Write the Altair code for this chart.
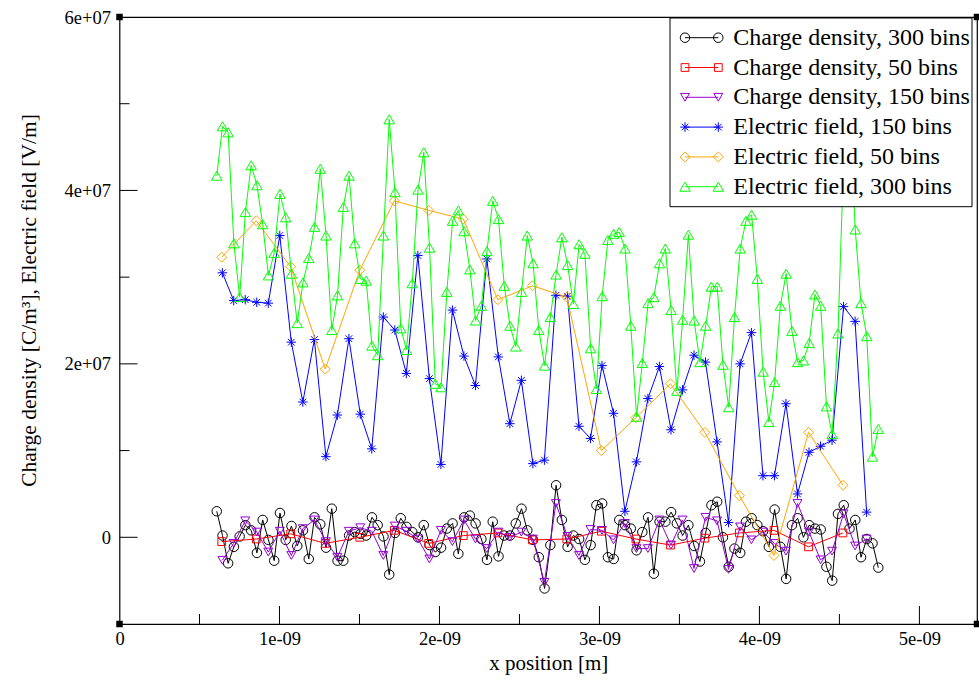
import altair as alt
import pandas as pd

# ---------------- data (x in units of 1e-9 m, y in units of 1e7) ----------------
x_300_nm = [0.608, 0.644, 0.679, 0.715, 0.751, 0.787, 0.823, 0.859, 0.895, 0.931,
            0.967, 1.003, 1.039, 1.075, 1.111, 1.147, 1.183, 1.219, 1.255, 1.291,
            1.327, 1.363, 1.399, 1.435, 1.470, 1.506, 1.542, 1.578, 1.614, 1.650,
            1.686, 1.722, 1.758, 1.794, 1.830, 1.866, 1.902, 1.938, 1.974, 2.010,
            2.046, 2.082, 2.118, 2.154, 2.190, 2.226, 2.262, 2.297, 2.333, 2.369,
            2.405, 2.441, 2.477, 2.513, 2.549, 2.585, 2.621, 2.657, 2.693, 2.729,
            2.765, 2.801, 2.837, 2.873, 2.909, 2.945, 2.981, 3.017, 3.053, 3.089,
            3.124, 3.160, 3.196, 3.232, 3.268, 3.304, 3.340, 3.376, 3.412, 3.448,
            3.484, 3.520, 3.556, 3.592, 3.628, 3.664, 3.700, 3.736, 3.772, 3.808,
            3.844, 3.880, 3.916, 3.951, 3.987, 4.023, 4.059, 4.095, 4.131, 4.167,
            4.203, 4.239, 4.275, 4.311, 4.347, 4.383, 4.419, 4.455, 4.491, 4.527,
            4.563, 4.599, 4.635, 4.671, 4.707, 4.743]

x_150_nm = [0.643, 0.714, 0.786, 0.858, 0.930, 1.002, 1.074, 1.146, 1.218, 1.290,
            1.362, 1.434, 1.505, 1.577, 1.649, 1.721, 1.793, 1.865, 1.937, 2.009,
            2.081, 2.153, 2.225, 2.296, 2.368, 2.440, 2.512, 2.584, 2.656, 2.728,
            2.800, 2.872, 2.944, 3.016, 3.088, 3.159, 3.231, 3.303, 3.375, 3.447,
            3.519, 3.591, 3.663, 3.735, 3.807, 3.879, 3.950, 4.022, 4.094, 4.166,
            4.238, 4.310, 4.382, 4.454, 4.526, 4.598, 4.670]

x_50_nm = [0.639, 0.855, 1.070, 1.286, 1.502, 1.718, 1.933, 2.149, 2.365, 2.581,
           2.796, 3.012, 3.228, 3.444, 3.659, 3.875, 4.091, 4.307, 4.522]

charge_300 = [0.30, 0.02, -0.30, -0.11, 0.01, 0.14, 0.08, -0.18, 0.20, -0.03,
              -0.27, 0.28, -0.03, 0.13, -0.10, 0.08, -0.25, 0.23, 0.15, -0.12,
              0.33, -0.27, -0.27, 0.02, 0.06, 0.04, 0.02, 0.23, 0.14, 0.01,
              -0.43, 0.05, 0.22, 0.12, 0.06, 0.00, 0.14, -0.09, -0.17, -0.12,
              0.10, 0.16, -0.19, 0.23, 0.25, 0.16, -0.02, -0.26, 0.18, -0.22,
              0.02, 0.02, 0.16, 0.33, 0.08, -0.03, -0.23, -0.59, -0.09, 0.60,
              0.20, -0.11, 0.02, -0.02, -0.26, -0.09, 0.37, 0.39, -0.23, -0.25,
              0.20, 0.14, 0.10, -0.15, 0.06, 0.23, -0.42, 0.18, 0.18, 0.29,
              0.16, 0.02, 0.14, -0.10, -0.28, 0.05, 0.37, 0.41, 0.00, -0.34,
              -0.13, -0.18, 0.18, 0.22, 0.14, 0.07, -0.11, 0.32, -0.11, -0.48,
              0.14, 0.22, 0.00, 0.14, 0.10, 0.09, -0.34, -0.50, 0.27, 0.37,
              0.10, 0.20, -0.23, -0.02, -0.07, -0.35]

charge_50 = [-0.05, -0.02, 0.04, -0.07, 0.00, 0.08, -0.07, 0.02, 0.05, -0.03,
             -0.02, 0.07, -0.02, -0.09, -0.01, 0.05, 0.08, -0.11, 0.05]

charge_150 = [-0.265, -0.07, 0.19, 0.06, -0.17, 0.07, -0.21, 0.10, 0.20, -0.05,
              -0.23, 0.07, 0.11, 0.07, -0.21, 0.13, 0.07, -0.02, -0.25, 0.08,
              -0.05, 0.20, -0.02, -0.13, 0.06, 0.00, 0.06, -0.02, -0.52, 0.39,
              0.01, -0.21, 0.09, 0.08, -0.03, 0.16, -0.13, -0.13, 0.20, -0.09,
              0.20, -0.36, 0.23, 0.19, -0.37, 0.12, -0.03, 0.06, -0.07, -0.16,
              0.39, 0.06, -0.26, -0.16, 0.27, -0.10, -0.02]

efield_150 = [3.05, 2.73, 2.74, 2.71, 2.70, 3.48, 2.25, 1.56, 2.28, 0.93,
              1.41, 2.29, 1.42, 1.02, 2.54, 2.39, 1.89, 3.25, 1.83, 0.84,
              2.62, 2.09, 1.75, 3.21, 2.08, 1.31, 1.81, 0.85, 0.89, 2.79,
              2.78, 1.28, 1.14, 1.98, 1.43, 0.30, 0.87, 1.60, 1.97, 1.24,
              1.70, 2.10, 2.02, 1.10, 0.17, 2.00, 2.36, 0.71, 0.71, 1.54,
              0.50, 0.98, 1.05, 1.12, 2.66, 2.49, 0.29]

efield_50 = [3.23, 3.65, 3.12, 1.94, 3.08, 3.88, 3.77, 3.67, 2.74, 2.90,
             2.77, 1.00, 1.38, 1.77, 1.21, 0.48, -0.21, 1.21, 0.60]

efield_300 = [4.17, 4.74, 4.67, 3.39, 2.77, 3.75, 4.29, 4.06, 3.61, 3.02,
              3.28, 3.96, 3.69, 3.04, 2.47, 2.94, 3.22, 3.58, 4.25, 3.48,
              2.39, 2.79, 3.81, 4.17, 3.39, 2.98, 2.96, 2.21, 2.10, 3.48,
              4.82, 3.98, 2.41, 2.16, 2.93, 4.01, 4.44, 3.34, 1.77, 1.73,
              2.83, 3.65, 3.77, 3.53, 3.09, 2.50, 2.67, 3.30, 3.88, 3.67,
              2.90, 2.44, 2.20, 2.83, 3.48, 3.16, 2.39, 1.98, 2.54, 3.03,
              3.46, 3.14, 2.69, 3.38, 3.27, 2.18, 1.71, 2.78, 3.43, 3.50,
              3.52, 3.33, 2.44, 1.39, 2.01, 2.70, 2.77, 3.16, 3.33, 2.62,
              1.69, 2.51, 3.49, 2.50, 2.02, 2.44, 2.89, 2.89, 1.99, 1.50,
              2.54, 3.33, 3.65, 3.72, 2.98, 1.91, 1.33, 1.79, 2.67, 3.04,
              2.38, 2.02, 2.04, 2.24, 2.80, 2.67, 1.51, 1.19, 2.35, 4.40,
              4.90, 3.55, 2.70, 2.32, 0.93, 1.25]

labels = ["Charge density, 300 bins", "Charge density, 50 bins", "Charge density, 150 bins",
          "Electric field, 150 bins", "Electric field, 50 bins", "Electric field, 300 bins"]

x_tick_values = [0, 1e-9, 2e-9, 3e-9, 4e-9, 5e-9]
x_minor_values = [0.5e-9, 1.5e-9, 2.5e-9, 3.5e-9, 4.5e-9]
y_tick_values = [0, 2e7, 4e7, 6e7]
y_minor_values = [1e7, 3e7, 5e7]

# ---------------- styling ----------------
FONT = "Liberation Serif"
X_MAX = 5.36e-9
Y_MIN, Y_MAX = -1e7, 6e7
W, H = 857.5, 607
ASTERISK = "M-1,0L1,0M0,-1L0,1M-0.7,-0.7L0.7,0.7M-0.7,0.7L0.7,-0.7"

styles = [
    (x_300_nm, charge_300, "#000000", "circle", 90),
    (x_50_nm, charge_50, "#ff0000", "square", 60),
    (x_150_nm, charge_150, "#9400d3", "triangle-down", 80),
    (x_150_nm, efield_150, "#0000ff", ASTERISK, 90),
    (x_50_nm, efield_50, "#ffa500", "diamond", 100),
    (x_300_nm, efield_300, "#00ff00", "triangle-up", 110),
]

xs = alt.Scale(domain=[0, X_MAX], nice=False, zero=False)
ys = alt.Scale(domain=[Y_MIN, Y_MAX], nice=False, zero=False)

x_axis = alt.Axis(
    values=x_tick_values,
    labelExpr="datum.value == 0 ? '0' : format(datum.value * 1e9, 'd') + 'e-09'",
    ticks=False, tickSize=0, domain=False, grid=False,
    labelFont=FONT, labelFontSize=18.5, labelColor="black", labelPadding=5,
    labelFlush=False, labelOverlap=False,
    title="x position [m]", titleFont=FONT, titleFontSize=21, titleFontWeight="normal",
    titleColor="black", titleY=39, titleBaseline="middle",
)
y_axis = alt.Axis(
    values=y_tick_values,
    labelExpr="datum.value == 0 ? '0' : format(datum.value / 1e7, 'd') + 'e+07'",
    ticks=False, tickSize=0, domain=False, grid=False,
    labelFont=FONT, labelFontSize=18.5, labelColor="black", labelPadding=9,
    labelFlush=False, labelOverlap=False,
    title="Charge density [C/m³], Electric field [V/m]", titleFont=FONT, titleFontSize=21.5,
    titleFontWeight="normal", titleColor="black",
    titleX=-90, titleY=283, titleAlign="center", titleBaseline="middle",
)


def X(field):
    return alt.X(field, scale=xs, axis=x_axis)


def Y(field):
    return alt.Y(field, scale=ys, axis=y_axis)


layers = []
for (xv, yv, color, shape, size) in styles:
    df = pd.DataFrame({"x": [v * 1e-9 for v in xv], "y": [v * 1e7 for v in yv]})
    base = alt.Chart(df)
    layers.append(base.mark_line(color=color, strokeWidth=1, clip=True).encode(
        x=X("x:Q"), y=Y("y:Q"), order="x:Q"))
    layers.append(base.mark_point(shape=shape, color=color, size=size, filled=False,
                                  strokeWidth=1, opacity=1, clip=True).encode(x=X("x:Q"), y=Y("y:Q")))


# inward ticks
def tick_layer(vals, channel, length):
    d = pd.DataFrame({"v": vals})
    if channel == "x":
        return alt.Chart(d).mark_rule(color="black", strokeWidth=1).encode(
            x=X("v:Q"), y=alt.value(H), y2=alt.value(H - length))
    return alt.Chart(d).mark_rule(color="black", strokeWidth=1).encode(
        y=Y("v:Q"), x=alt.value(0), x2=alt.value(length))


layers.append(tick_layer(x_tick_values[1:], "x", 18))
layers.append(tick_layer(x_minor_values, "x", 10))
layers.append(tick_layer(y_tick_values[:-1], "y", 18))
layers.append(tick_layer(y_minor_values, "y", 10))

# corner markers
corners = pd.DataFrame({"x": [0, 0, X_MAX, X_MAX], "y": [Y_MIN, Y_MAX, Y_MIN, Y_MAX]})
layers.append(alt.Chart(corners).mark_square(size=42, color="black", filled=True, opacity=1).encode(
    x=X("x:Q"), y=Y("y:Q")))

# legend box
box = pd.DataFrame({"a": [0]})
layers.append(alt.Chart(box).mark_rect(fill="white", stroke="black", strokeWidth=1).encode(
    x=alt.value(550.5), x2=alt.value(852.5), y=alt.value(1), y2=alt.value(189.7)))

LX1, LX2, LT = 565.5, 598.8, 613.8
for i, (lab, (xv, yv, color, shape, size)) in enumerate(zip(labels, styles)):
    yy = 20.7 + 29.8 * i
    row = alt.Chart(pd.DataFrame({"label": [lab]}))
    layers.append(row.mark_rule(color=color, strokeWidth=1).encode(
        x=alt.value(LX1), x2=alt.value(LX2), y=alt.value(yy)))
    for lx in (LX1, LX2):
        layers.append(row.mark_point(shape=shape, color=color, size=size, filled=False,
                                     strokeWidth=1, opacity=1).encode(x=alt.value(lx), y=alt.value(yy)))
    layers.append(row.mark_text(align="left", baseline="middle", font=FONT, fontSize=24,
                                color="black").encode(x=alt.value(LT), y=alt.value(yy), text="label:N"))

chart = alt.layer(*layers).properties(
    width=W, height=H,
    padding={"left": 119.5, "top": 17, "right": 2, "bottom": 58},
    autosize=alt.AutoSizeParams(type="none"),
    background="white",
).configure_view(stroke="black", strokeWidth=1.2)

chart.save("out.html", embed_options={"renderer": "svg", "actions": False})
